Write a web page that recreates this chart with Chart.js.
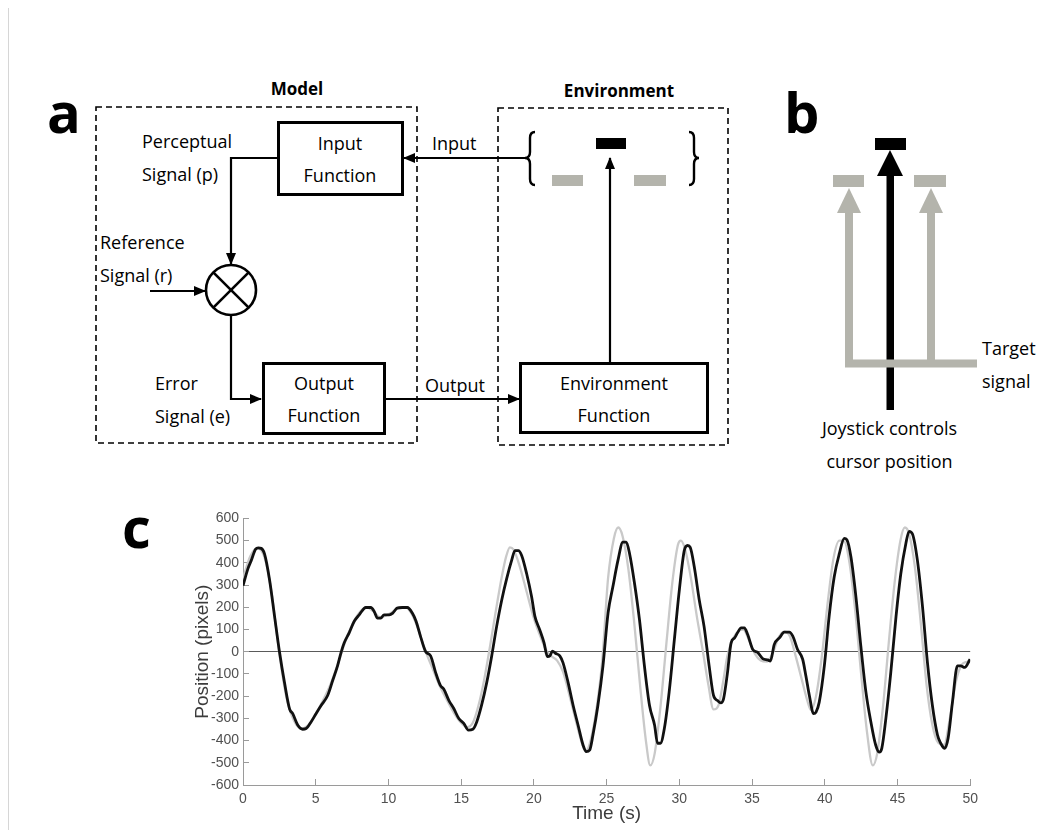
<!DOCTYPE html>
<html>
<head>
<meta charset="utf-8">
<title>Perceptual control tracking</title>
<script src="https://cdn.jsdelivr.net/npm/chart.js@4.4.1/dist/chart.umd.min.js"></script>
<style>
  html, body { margin: 0; padding: 0; background: #fff; }
  #page { position: relative; width: 1039px; height: 830px; overflow: hidden; background: #fff; }
  #diagram { position: absolute; left: 0; top: 0; }
  #diagram text { font-family: "Open Sans", "Liberation Sans", sans-serif; font-size: 18px; fill: #000; }
  #diagram text.head { font-weight: bold; font-size: 17px; }
  #diagram text.panel { font-weight: bold; font-size: 56px; fill: #000; }
  #chartBox { position: absolute; left: 180px; top: 500px; width: 810px; height: 330px; }
</style>
</head>
<body>
<div id="page">
<svg id="diagram" width="1039" height="830">
  <defs>
    <marker id="ah" markerWidth="12" markerHeight="10" refX="11" refY="5" orient="auto" markerUnits="userSpaceOnUse">
      <path d="M0,0 L12,5 L0,10 z" fill="#000"/>
    </marker>
  </defs>
  <line x1="8.5" y1="8" x2="8.5" y2="830" stroke="#d6d6d6" stroke-width="1"/>

  <!-- panel a -->
  <text class="panel" x="47" y="133">a</text>
  <text class="head" x="297" y="88" text-anchor="middle" dominant-baseline="central">Model</text>
  <text class="head" x="619" y="90" text-anchor="middle" dominant-baseline="central">Environment</text>
  <rect x="96" y="107" width="321" height="336" fill="none" stroke="#000" stroke-width="1.6" stroke-dasharray="6 4"/>
  <rect x="498" y="108" width="230" height="337" fill="none" stroke="#000" stroke-width="1.6" stroke-dasharray="6 4"/>

  <rect x="278.5" y="122.5" width="124" height="72" fill="#fff" stroke="#000" stroke-width="3"/>
  <text x="340" y="143" text-anchor="middle" dominant-baseline="central">Input</text>
  <text x="340" y="175" text-anchor="middle" dominant-baseline="central">Function</text>

  <rect x="263.5" y="363.5" width="121" height="70" fill="#fff" stroke="#000" stroke-width="3"/>
  <text x="324" y="383" text-anchor="middle" dominant-baseline="central">Output</text>
  <text x="324" y="415" text-anchor="middle" dominant-baseline="central">Function</text>

  <rect x="520.5" y="363.5" width="187" height="69" fill="#fff" stroke="#000" stroke-width="3"/>
  <text x="614" y="383" text-anchor="middle" dominant-baseline="central">Environment</text>
  <text x="614" y="415" text-anchor="middle" dominant-baseline="central">Function</text>

  <text x="142" y="141" dominant-baseline="central">Perceptual</text>
  <text x="142" y="174" dominant-baseline="central">Signal (p)</text>
  <text x="100" y="242" dominant-baseline="central">Reference</text>
  <text x="100" y="275" dominant-baseline="central">Signal (r)</text>
  <text x="155" y="383" dominant-baseline="central">Error</text>
  <text x="155" y="416" dominant-baseline="central">Signal (e)</text>
  <text x="432" y="143" dominant-baseline="central">Input</text>
  <text x="425" y="385" dominant-baseline="central">Output</text>

  <polyline points="277,158 231,158 231,264" fill="none" stroke="#000" stroke-width="2.2" marker-end="url(#ah)"/>
  <polyline points="150,291 205,291" fill="none" stroke="#000" stroke-width="2.2" marker-end="url(#ah)"/>
  <polyline points="231,316 231,399 261,399" fill="none" stroke="#000" stroke-width="2.2" marker-end="url(#ah)"/>
  <polyline points="386,399 519,399" fill="none" stroke="#000" stroke-width="2.2" marker-end="url(#ah)"/>
  <polyline points="610,362 610,158" fill="none" stroke="#000" stroke-width="2.2" marker-end="url(#ah)"/>
  <polyline points="527,158 404,158" fill="none" stroke="#000" stroke-width="2.2" marker-end="url(#ah)"/>

  <circle cx="231" cy="290" r="25" fill="#fff" stroke="#000" stroke-width="2.6"/>
  <line x1="213.3" y1="272.3" x2="248.7" y2="307.7" stroke="#000" stroke-width="2.6"/>
  <line x1="248.7" y1="272.3" x2="213.3" y2="307.7" stroke="#000" stroke-width="2.6"/>

  <path d="M535,132 Q530,132 530,138 L530,152 Q530,158 525,158 Q530,158 530,164 L530,179 Q530,185 535,185" fill="none" stroke="#000" stroke-width="2.4"/>
  <path d="M689,132 Q694,132 694,138 L694,152 Q694,158 699,158 Q694,158 694,164 L694,179 Q694,185 689,185" fill="none" stroke="#000" stroke-width="2.4"/>
  <rect x="596" y="138" width="30" height="11" fill="#000"/>
  <rect x="552" y="175" width="31" height="11" fill="#b4b4ac"/>
  <rect x="634" y="175" width="32" height="11" fill="#b4b4ac"/>

  <!-- panel b -->
  <text class="panel" x="784" y="133">b</text>
  <rect x="875" y="138" width="31" height="12" fill="#000"/>
  <rect x="833" y="175" width="31" height="12" fill="#b4b4ac"/>
  <rect x="914" y="175" width="32" height="12" fill="#b4b4ac"/>
  <rect x="886.5" y="172" width="7.5" height="238" fill="#000"/>
  <polygon points="877,176 903,176 890,150" fill="#000"/>
  <rect x="845" y="210" width="8" height="157" fill="#b4b4ac"/>
  <rect x="927" y="210" width="8" height="157" fill="#b4b4ac"/>
  <polygon points="837,213 861,213 849,188" fill="#b4b4ac"/>
  <polygon points="919,213 943,213 931,188" fill="#b4b4ac"/>
  <rect x="845" y="359.5" width="132" height="8" fill="#b4b4ac"/>
  <text x="982" y="348" dominant-baseline="central">Target</text>
  <text x="982" y="381" dominant-baseline="central">signal</text>
  <text x="889.5" y="428" text-anchor="middle" dominant-baseline="central">Joystick controls</text>
  <text x="889.5" y="461" text-anchor="middle" dominant-baseline="central">cursor position</text>

  <!-- panel c -->
  <text class="panel" x="122" y="548">c</text>
</svg>
<div id="chartBox"><canvas id="trackChart"></canvas></div>
</div>

<script>
// tick labels
var timeTicks = [0, 5, 10, 15, 20, 25, 30, 35, 40, 45, 50];
var positionTicks = [-600, -500, -400, -300, -200, -100, 0, 100, 200, 300, 400, 500, 600];

// target signal (grey)
var targetTime = [0, 0.5, 1.0, 1.5, 2.0, 2.5, 3.0, 3.5, 4.0, 4.5, 5.0, 5.5, 6.0, 6.5, 7.0, 7.5, 8.0, 8.5, 9.0, 9.4,
  9.8, 10.2, 10.7, 11.2, 11.6, 12.0, 12.5, 13.0, 13.5, 14.0, 14.5, 15.0, 15.4, 15.8, 16.2, 16.6, 17.0, 17.4, 17.8, 18.1,
  18.35, 18.6, 19.0, 19.5, 20.0, 20.5, 20.9, 21.2, 21.6, 22.0, 22.5, 23.0, 23.4, 23.6, 23.9, 24.3, 24.7, 25.1, 25.5, 25.8,
  26.1, 26.5, 26.9, 27.3, 27.7, 28.0, 28.3, 28.7, 29.1, 29.5, 29.9, 30.1, 30.4, 30.8, 31.2, 31.6, 32.0, 32.35, 32.7, 33.0,
  33.3, 33.7, 34.1, 34.4, 34.8, 35.2, 35.6, 36.0, 36.4, 36.8, 37.2, 37.6, 38.0, 38.4, 38.8, 39.05, 39.4, 39.8, 40.2, 40.6,
  41.0, 41.3, 41.7, 42.1, 42.5, 42.9, 43.3, 43.6, 44.0, 44.4, 44.8, 45.2, 45.5, 45.8, 46.2, 46.6, 47.0, 47.4, 47.8, 48.2,
  48.6, 49.0, 49.4, 49.8, 50];
var targetPos = [330, 430, 465, 420, 250, -10, -210, -310, -345, -330, -280, -220, -150, -60, 40, 120, 175, 200, 180, 155,
  162, 175, 198, 198, 170, 110, 10, -70, -150, -215, -275, -320, -340, -320, -240, -120, 30, 190, 340, 430,
  470, 460, 390, 270, 150, 60, 0, -20, -40, -90, -210, -340, -430, -445, -400, -260, -40, 330, 510, 559,
  520, 370, 130, -150, -400, -512, -460, -250, 30, 300, 480, 500, 460, 330, 160, 10, -150, -260, -240, -140,
  -20, 60, 95, 100, 50, -10, -40, -45, -10, 60, 90, 70, -20, -120, -220, -262, -200, -20, 220, 420,
  500, 500, 400, 180, -100, -360, -512, -460, -250, 40, 310, 500, 559, 530, 380, 130, -150, -330, -410, -420,
  -300, -140, -60, -45, -40];

// joystick cursor (black)
var cursorTime = [0, 0.34, 0.57, 0.87, 1.05, 1.25, 1.48, 1.83, 2.17, 2.5, 2.85, 3.2, 3.42, 3.77, 4.1, 4.34, 4.68, 5.02, 5.37, 5.82,
  6.16, 6.5, 6.74, 6.96, 7.3, 7.65, 7.99, 8.45, 8.79, 9.02, 9.25, 9.47, 9.7, 10.05, 10.3, 10.6, 10.96, 11.3, 11.64, 11.9,
  12.2, 12.56, 12.9, 13.24, 13.58, 13.8, 14.16, 14.5, 14.84, 15.18, 15.5, 15.8, 16.07, 16.4, 16.76, 17.1, 17.44, 17.79, 18.13, 18.47,
  18.7, 18.93, 19.16, 19.5, 19.84, 20.07, 20.4, 20.7, 20.93, 21.1, 21.28, 21.48, 21.78, 22.0, 22.35, 22.7, 23.04, 23.38, 23.6, 23.84,
  24.06, 24.4, 24.75, 25.1, 25.43, 25.78, 26.12, 26.35, 26.58, 26.92, 27.26, 27.6, 27.95, 28.3, 28.5, 28.7, 28.97, 29.3, 29.66, 30.0,
  30.34, 30.57, 30.75, 31.03, 31.37, 31.7, 32.05, 32.35, 32.63, 32.85, 33.04, 33.3, 33.56, 33.8, 34.0, 34.25, 34.47, 34.7, 35.05, 35.4,
  35.73, 36.08, 36.26, 36.53, 36.88, 37.22, 37.56, 37.8, 38.13, 38.48, 38.7, 38.94, 39.23, 39.4, 39.62, 39.97, 40.3, 40.65, 41.0, 41.34,
  41.52, 41.8, 42.14, 42.48, 42.83, 43.17, 43.5, 43.74, 43.92, 44.2, 44.54, 44.9, 45.23, 45.57, 45.8, 46.03, 46.37, 46.72, 47.06, 47.4,
  47.75, 47.97, 48.25, 48.48, 48.78, 49.12, 49.35, 49.62, 49.99];
var cursorPos = [297, 374, 411, 462, 467, 465, 440, 322, 159, 3, -138, -257, -279, -331, -349, -346, -316, -279, -242, -197,
  -131, -64, -4, 40, 85, 137, 166, 199, 199, 181, 151, 151, 166, 166, 174, 196, 199, 199, 174, 137,
  70, 0, -19, -93, -153, -168, -220, -257, -301, -323, -353, -349, -316, -242, -138, -19, 114, 233, 329, 411,
  455, 455, 433, 352, 248, 159, 99, 40, -22, -19, 3, -7, -19, -49, -138, -242, -331, -420, -450, -442,
  -375, -242, -64, 174, 292, 411, 493, 493, 441, 307, 144, -64, -242, -331, -412, -412, -346, -182, 55, 277,
  455, 478, 470, 381, 233, 114, -64, -197, -220, -230, -212, -100, 40, 62, 85, 107, 107, 77, 10, -4,
  -31, -37, -42, 33, 62, 88, 88, 70, 10, -34, -108, -197, -279, -272, -227, -64, 159, 337, 441, 510,
  504, 426, 248, 25, -182, -316, -420, -452, -435, -301, -93, 159, 352, 485, 542, 530, 411, 203, -49, -242,
  -375, -412, -435, -390, -227, -64, -64, -71, -34];

function zip(xs, ys) {
  return xs.map(function (x, i) { return { x: x, y: ys[i] }; });
}

var tickFont = { family: "'Liberation Sans', Arial, sans-serif", size: 14 };
var titleFont = { family: "'Liberation Sans', Arial, sans-serif", size: 19 };

var ctx = document.getElementById("trackChart");
var trackChart = new Chart(ctx, {
  type: 'line',
  data: {
    datasets: [{
      label: 'Cursor',
      data: zip(cursorTime, cursorPos),
      borderColor: '#111111',
      borderWidth: 2.8,
      pointRadius: 0,
      cubicInterpolationMode: 'monotone',
      order: 1
    }, {
      label: 'Target',
      data: zip(targetTime, targetPos),
      borderColor: '#c9c9c9',
      borderWidth: 2.3,
      pointRadius: 0,
      cubicInterpolationMode: 'monotone',
      order: 2
    }]
  },
  options: {
    responsive: true,
    maintainAspectRatio: false,
    animation: false,
    layout: { padding: { top: 15, right: 17, bottom: 0, left: 0 } },
    plugins: {
      legend: { display: false },
      tooltip: { enabled: false }
    },
    scales: {
      x: {
        type: 'linear',
        min: 0,
        max: 50,
        afterBuildTicks: function (scale) {
          scale.ticks = timeTicks.map(function (v) { return { value: v }; });
        },
        afterFit: function (scale) { scale.height = 45; },
        grid: { drawOnChartArea: false, tickLength: -6, tickColor: '#9a9a9a', lineWidth: 1 },
        border: { display: true, color: '#9a9a9a', width: 1 },
        ticks: { color: '#505050', font: tickFont, padding: 12, maxRotation: 0 },
        title: { display: true, text: 'Time (s)', color: '#3c3c3c', font: titleFont, padding: { top: 0, bottom: 5 } }
      },
      y: {
        min: -600,
        max: 600,
        afterBuildTicks: function (scale) {
          scale.ticks = positionTicks.map(function (v) { return { value: v }; });
        },
        afterFit: function (scale) { scale.width = 63; },
        grid: {
          drawOnChartArea: true,
          tickLength: -6,
          tickColor: '#9a9a9a',
          color: function (c) { return c.tick && c.tick.value === 0 ? '#5a5a5a' : 'rgba(0,0,0,0)'; },
          lineWidth: 1
        },
        border: { display: true, color: '#9a9a9a', width: 1 },
        ticks: { color: '#505050', font: tickFont, padding: 10 },
        title: { display: true, text: 'Position (pixels)', color: '#3c3c3c', font: titleFont, padding: { top: 11, bottom: 0 } }
      }
    }
  }
});
</script>
</body>
</html>
